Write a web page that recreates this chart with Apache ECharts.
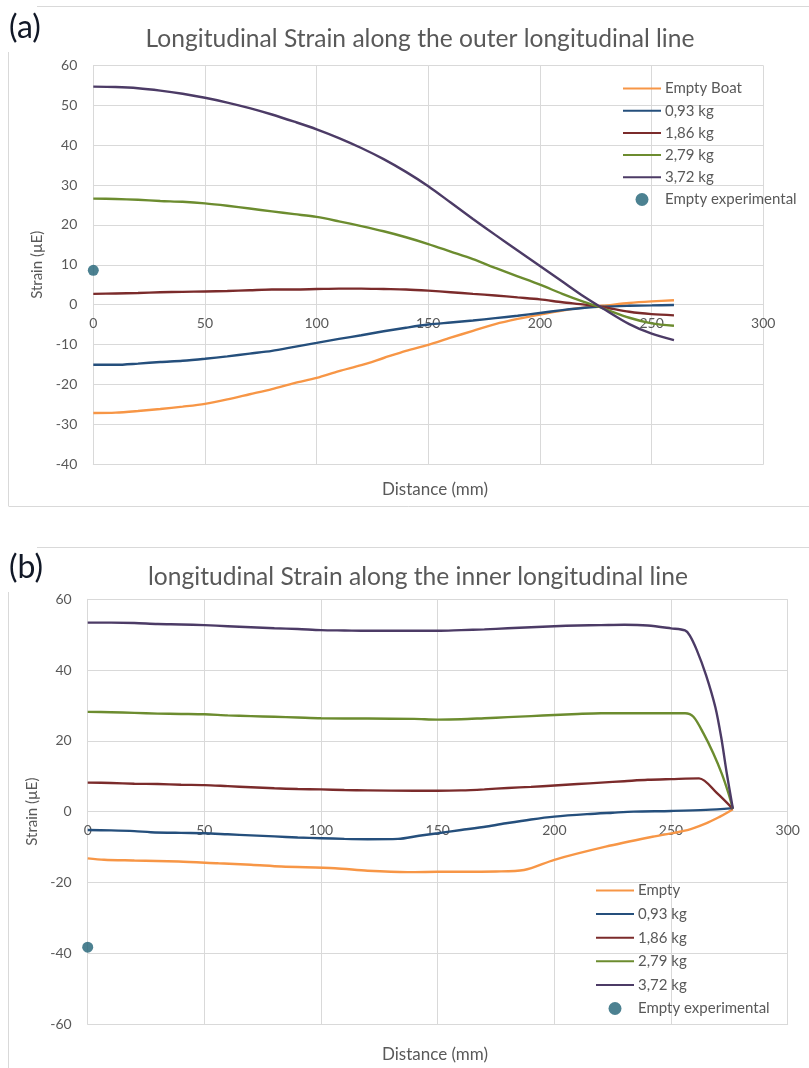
<!DOCTYPE html>
<html>
<head>
<meta charset="utf-8">
<script src="https://cdn.jsdelivr.net/npm/echarts@6/dist/echarts.min.js"></script>
<style>
html,body{margin:0;padding:0;background:#fff;}
#c{width:809px;height:1068px;}
</style>
</head>
<body>
<div id="c"></div>
<script>
// ---------- DATA ----------
// (a) outer longitudinal line
const outerX = [0,10,20,30,40,50,60,70,80,90,100,110,120,130,140,150,160,170,180,190,200,210,220,228,240,250,260];
const outerEmpty = [-27.2,-27.1,-26.7,-26.2,-25.6,-24.9,-23.8,-22.5,-21.2,-19.7,-18.4,-16.7,-15.2,-13.4,-11.6,-10.1,-8.3,-6.6,-4.9,-3.6,-2.5,-1.5,-0.7,-0.3,0.4,0.8,1.1];
const outer093 = [-15.1,-15.1,-14.8,-14.4,-14.1,-13.6,-13.0,-12.3,-11.6,-10.6,-9.6,-8.6,-7.7,-6.7,-5.8,-5.0,-4.5,-4.0,-3.4,-2.8,-2.1,-1.4,-0.8,-0.5,-0.3,-0.2,-0.1];
const outer186 = [2.7,2.8,2.9,3.1,3.2,3.3,3.4,3.6,3.8,3.8,3.9,4.0,4.0,3.9,3.8,3.5,3.1,2.7,2.3,1.8,1.3,0.6,0.0,-0.6,-1.8,-2.4,-2.7];
const outer279 = [26.6,26.5,26.3,26.0,25.8,25.4,24.8,24.1,23.4,22.7,22.0,20.9,19.7,18.4,16.9,15.2,13.3,11.4,9.2,7.1,5.0,2.7,0.6,-0.9,-3.3,-4.7,-5.3];
const outer372 = [54.7,54.6,54.3,53.7,52.9,51.9,50.7,49.3,47.7,45.9,44.0,41.8,39.3,36.5,33.3,29.7,25.6,21.5,17.5,13.6,9.7,5.8,1.9,-0.9,-4.9,-7.3,-8.9];
const outerExp = [[0, 8.6]];
const outerNames = ['Empty Boat','0,93 kg','1,86 kg','2,79 kg','3,72 kg','Empty experimental'];

// (b) inner longitudinal line
const innerEmptyX = [0,7,20,39,56,70,83,106,120,137,150,175,187,200,222,242,257,265,271,274,276.5];
const innerEmptyY = [-13.2,-13.6,-13.8,-14.1,-14.6,-15.0,-15.5,-16.0,-16.7,-17.1,-17.0,-16.9,-16.5,-13.6,-9.9,-7.1,-5.2,-3.3,-1.4,-0.3,0.7];
const inner093X = [0,10,20,27,40,50,60,70,80,90,100,110,120,133,142,150,160,171,180,190,200,214,225,234,250,265,276.5];
const inner093Y = [-5.2,-5.3,-5.5,-5.8,-6.0,-6.1,-6.4,-6.7,-7.0,-7.3,-7.5,-7.7,-7.8,-7.7,-6.8,-6.1,-5.2,-4.2,-3.2,-2.2,-1.4,-0.7,-0.3,0.0,0.2,0.5,1.0];
const inner186X = [0,10,20,30,40,50,60,70,80,90,100,110,120,140,150,160,170,180,190,200,210,220,230,240,250,262,269.6,276.5];
const inner186Y = [8.2,8.1,7.9,7.8,7.6,7.5,7.2,6.9,6.6,6.4,6.3,6.1,6.0,5.9,5.9,6.0,6.3,6.7,7.0,7.4,7.8,8.2,8.6,9.0,9.2,9.4,5.3,0.8];
const inner279X = [0,10,20,30,40,50,60,70,80,90,100,120,140,150,160,170,180,190,200,210,220,240,256,259.6,263.9,268.1,271.7,274.6,276.5];
const inner279Y = [28.2,28.1,27.9,27.7,27.6,27.5,27.2,27.0,26.8,26.6,26.4,26.3,26.2,26.0,26.1,26.4,26.7,27.0,27.3,27.6,27.8,27.8,27.8,26.8,22.1,16.5,10.8,5.2,0.8];
const inner372X = [0,10,20,30,40,50,60,70,80,90,100,110,120,130,140,150,160,170,180,190,200,210,220,230,240,250,256,258,261,265,269,271.5,273.9,276.5];
const inner372Y = [53.4,53.4,53.3,53.0,52.9,52.7,52.4,52.1,51.8,51.6,51.3,51.2,51.1,51.1,51.1,51.1,51.3,51.5,51.8,52.1,52.4,52.6,52.7,52.8,52.6,51.8,51.2,49.8,45.7,38.6,29.5,21.0,10.8,0.8];
const innerExp = [[0, -38.3]];
const innerNames = ['Empty','0,93 kg','1,86 kg','2,79 kg','3,72 kg','Empty experimental'];

const outerTicks = {min:-40, max:60, interval:10};
const innerTicks = {min:-60, max:60, interval:20};
const xTicks = {min:0, max:300, interval:50};

// ---------- STYLE ----------
const colors = ['#F79646','#254F7C','#7B2B2B','#6C8C2F','#4C3B66'];
const expColor = '#1F6275';
const grey = '#595959';
const gridGrey = '#D9D9D9';
const FONT = 'Lato, "Open Sans", sans-serif';

function zip(xs, ys){ return xs.map((x,i)=>[x, ys[i]]); }

const outerSeriesData = [outerEmpty, outer093, outer186, outer279, outer372].map(v => zip(outerX, v));
const innerSeriesData = [zip(innerEmptyX,innerEmptyY), zip(inner093X,inner093Y), zip(inner186X,inner186Y), zip(inner279X,inner279Y), zip(inner372X,inner372Y)];

function lineSeries(name, data, color, idx){
  return {
    type:'line', name:name, data:data, xAxisIndex:idx, yAxisIndex:idx,
    symbol:'none', smooth:0.3, lineStyle:{color:color, width:2.4}, itemStyle:{color:color},
    z:3, silent:true
  };
}

const series = [];
outerSeriesData.forEach((d,i)=>series.push(lineSeries(outerNames[i], d, colors[i], 0)));
series.push({type:'scatter', name:outerNames[5], data:outerExp, xAxisIndex:0, yAxisIndex:0, symbolSize:11, itemStyle:{color:expColor}, z:4});
innerSeriesData.forEach((d,i)=>series.push(lineSeries(innerNames[i], d, colors[i], 1)));
series.push({type:'scatter', name:innerNames[5], data:innerExp, xAxisIndex:1, yAxisIndex:1, symbolSize:11, itemStyle:{color:expColor}, z:4});

// labels sit next to the zero line (Excel style): pulled up from the grid bottom
function xAxis(gridIndex, labelMargin){
  return {
    type:'value', gridIndex:gridIndex, min:xTicks.min, max:xTicks.max, interval:xTicks.interval,
    axisLine:{show:true, onZero:false, lineStyle:{color:gridGrey, width:1}},
    axisTick:{show:false},
    axisLabel:{color:grey, fontSize:14, fontFamily:FONT, margin:labelMargin},
    splitLine:{show:true, lineStyle:{color:gridGrey, width:1}}
  };
}
function yAxis(gridIndex, t, gap){
  return {
    type:'value', gridIndex:gridIndex, min:t.min, max:t.max, interval:t.interval,
    axisLine:{show:true, onZero:false, lineStyle:{color:gridGrey, width:1}}, axisTick:{show:false},
    axisLabel:{color:grey, fontSize:14, fontFamily:FONT, margin:16},
    splitLine:{show:true, lineStyle:{color:gridGrey, width:1}},
    name:'Strain (µE)', nameLocation:'middle', nameGap:gap, nameRotate:90,
    nameTextStyle:{color:grey, fontSize:15, fontFamily:FONT}
  };
}

function legend(names, left, top, gap){
  return {
    orient:'vertical', left:left, top:top,
    data:names.map((n,i)=> i < 5 ? {name:n} : {name:n, itemStyle:{color:expColor}}),
    itemWidth:38, itemHeight:13, itemGap:gap, selectedMode:false,
    itemStyle:{color:'rgba(0,0,0,0)', borderWidth:0},
    textStyle:{color:grey, fontSize:15, fontFamily:FONT, lineHeight:14, padding:[0,0,0,-1]},
    padding:0
  };
}

const chart = echarts.init(document.getElementById('c'), null, {renderer:'canvas'});
chart.setOption({
  animation:false,
  backgroundColor:'#ffffff',
  title:[
    {text:'Longitudinal Strain along the outer longitudinal line', left:415, top:22, textAlign:'center',
     textStyle:{color:grey, fontSize:24.6, fontWeight:'normal', fontFamily:FONT}},
    {text:'longitudinal Strain along the inner longitudinal line', left:413, top:560, textAlign:'center',
     textStyle:{color:grey, fontSize:24.6, fontWeight:'normal', fontFamily:FONT}}
  ],
  legend:[
    legend(outerNames, 622, 81, 7.2),
    legend(innerNames, 595, 883, 8.6)
  ],
  grid:[
    {left:93.3, right:45.7, top:65.5, bottom:604, containLabel:false},
    {left:87.7, right:21.3, top:599.3, bottom:44, containLabel:false}
  ],
  xAxis:[xAxis(0, -148), xAxis(1, -201)],
  yAxis:[yAxis(0, outerTicks, 44), yAxis(1, innerTicks, 43)],
  series:series,
  graphic:[
    // panel frames
    {type:'line', shape:{x1:37, y1:6.5, x2:809, y2:6.5}, style:{stroke:gridGrey, lineWidth:1}, silent:true},
    {type:'line', shape:{x1:8.5, y1:52, x2:8.5, y2:506}, style:{stroke:gridGrey, lineWidth:1}, silent:true},
    {type:'line', shape:{x1:8.5, y1:506.5, x2:809, y2:506.5}, style:{stroke:gridGrey, lineWidth:1}, silent:true},
    {type:'line', shape:{x1:37, y1:547.5, x2:809, y2:547.5}, style:{stroke:gridGrey, lineWidth:1}, silent:true},
    {type:'line', shape:{x1:8.5, y1:592, x2:8.5, y2:1068}, style:{stroke:gridGrey, lineWidth:1}, silent:true},
    // panel letters
    {type:'text', left:9, top:12, style:{text:'(a)', font:'32px '+FONT, fill:'#111827'}},
    {type:'text', left:9, top:552, style:{text:'(b)', font:'32px '+FONT, fill:'#111827'}},
    // x axis names
    {type:'text', x:435, y:490, style:{text:'Distance (mm)', font:'17px '+FONT, fill:grey, align:'center', verticalAlign:'middle'}},
    {type:'text', x:435, y:1055, style:{text:'Distance (mm)', font:'17px '+FONT, fill:grey, align:'center', verticalAlign:'middle'}}
  ]
});
</script>
</body>
</html>
